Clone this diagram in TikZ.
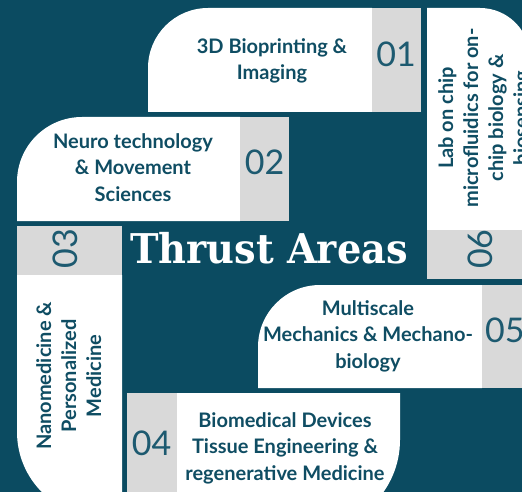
\documentclass[tikz,border=0pt]{standalone}
\usepackage{fontspec}
\setmainfont{Lato}
\newfontfamily\titlefont{DejaVu Serif}
\usepackage{graphicx}
\definecolor{bg}{HTML}{0B4B61}
\definecolor{txt}{HTML}{0F4D63}
\definecolor{numc}{HTML}{1D5A70}
\definecolor{boxgray}{HTML}{D9D9D9}
\begin{document}
\begin{tikzpicture}[x=1pt,y=1pt,
  lbl/.style={font=\fontsize{20}{26.5}\selectfont\bfseries, text=txt, align=center, inner sep=0pt, anchor=base},
  rlbl/.style={lbl, font=\fontsize{20}{25}\selectfont\bfseries, rotate=90},
  num/.style={font=\fontsize{34}{34}\selectfont, text=numc, inner sep=0pt, anchor=base},
  card/.style={fill=white},
  tab/.style={fill=boxgray}]
\useasboundingbox (0,0) rectangle (522,-492);
\clip (0,0) rectangle (522,-492);
\fill[bg] (0,0) rectangle (522,-492);

% 01
\fill[card] (148,-112) -- (148,-68) arc[start angle=180,end angle=90,radius=60] -- (372,-8) -- (372,-112) -- cycle;
\fill[tab] (372,-8) rectangle (421,-112);
\node[lbl] (t1) at (272,-80) {3D Bioprinting \&\\Imaging};
\node[num] (n1) at (396,-67) {01};

% 02
\fill[card] (17,-221) -- (17,-182) arc[start angle=180,end angle=90,radius=65] -- (240,-117) -- (240,-221) -- cycle;
\fill[tab] (240,-117) rectangle (289,-221);
\node[lbl] (t2) at (133,-201) {Neuro technology\\\& Movement\\Sciences};
\node[num] (n2) at (264.5,-175) {02};

% 06
\fill[card] (427,-230) -- (427,-8) -- (480,-8) arc[start angle=90,end angle=0,radius=50] -- (530,-230) -- cycle;
\fill[tab] (427,-230) rectangle (540,-279);
\node[rlbl] (t6) at (528,-118) {Lab on chip\\microfluidics for on-\\chip biology \&\\biosensing};
\node[num, rotate=90] (n6) at (492,-249) {06};

% 03
\fill[tab] (17,-226) rectangle (122,-275);
\fill[card] (17,-275) -- (17,-432) arc[start angle=180,end angle=270,radius=85] -- (122,-517) -- (122,-275) -- cycle;
\node[rlbl] (t3) at (101,-376) {Nanomedicine \&\\Personalized\\Medicine};
\node[num, rotate=90] (n3) at (77,-248.5) {03};

% 05
\fill[card] (258,-388) -- (258,-347) arc[start angle=180,end angle=90,radius=62] -- (482,-285) -- (482,-388) -- cycle;
\fill[tab] (482,-285) rectangle (540,-388);
\node[lbl] (t5) at (368,-368) {Multiscale\\Mechanics \& Mechano-\\biology};
\node[num, anchor=base west] (n5) at (485,-342) {05};

% 04
\fill[tab] (127,-393) rectangle (177,-540);
\fill[card] (177,-393) -- (400,-393) -- (400,-440) arc[start angle=0,end angle=-90,radius=90] -- (177,-530) -- cycle;
\node[lbl] (t4) at (285,-480) {Biomedical Devices\\Tissue Engineering \&\\regenerative Medicine};
\node[num] (n4) at (151.5,-455) {04};

% title
\node[inner sep=0pt, anchor=base, text=white, font=\titlefont\bfseries\fontsize{41}{41}\selectfont] (title) at (269,-263) {\scalebox{0.935}[1]{Thrust Areas}};
\end{tikzpicture}
\end{document}
